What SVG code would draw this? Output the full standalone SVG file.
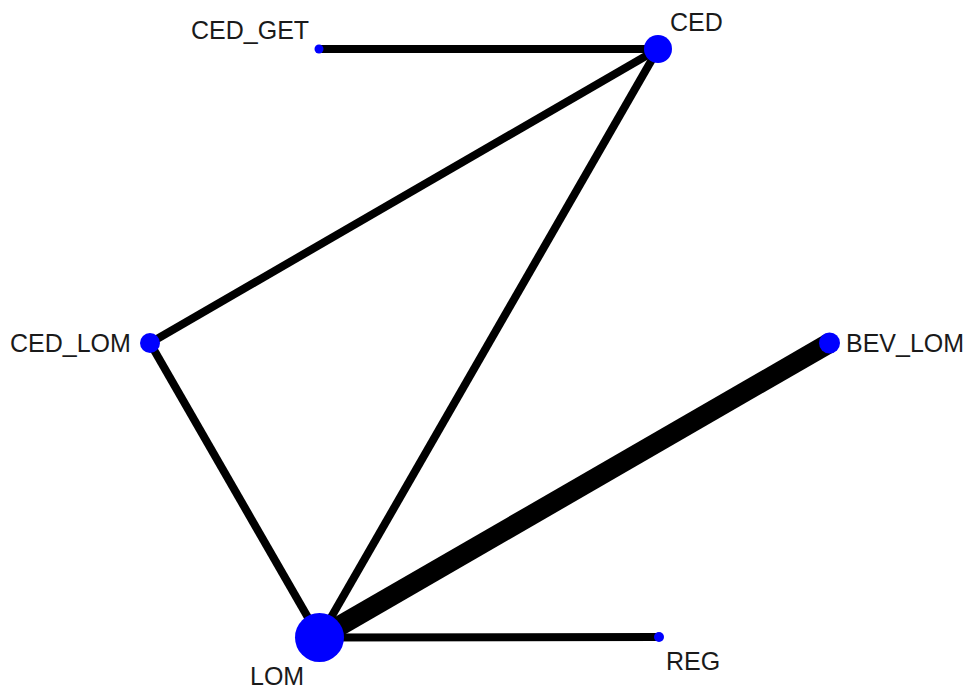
<svg xmlns="http://www.w3.org/2000/svg" width="968" height="690" viewBox="0 0 968 690">
<style>
.e{stroke:#000;stroke-width:8;fill:none}
.n{fill:#0000ff}
.t{font-family:"Liberation Sans",Arial,sans-serif;font-size:25px;fill:#1a1a1a}
</style>
<rect width="968" height="690" fill="#fff"/>
<g id="connectors">
<line class="e" x1="319" y1="49" x2="658" y2="49"/>
<line class="e" x1="658" y1="49" x2="150" y2="343"/>
<line class="e" x1="658" y1="49" x2="319.5" y2="637.5"/>
<line class="e" x1="150" y1="343" x2="319.5" y2="637.5"/>
<line class="e" x1="319.5" y1="637.5" x2="659" y2="637"/>
<line class="e" style="stroke-width:20" x1="319.5" y1="637.5" x2="829.5" y2="343"/>
</g>
<g id="CED_GET"><circle class="n" cx="319" cy="49" r="4.5"/><text class="t" x="191" y="39">CED_GET</text></g>
<g id="CED"><circle class="n" cx="658" cy="49" r="14"/><text class="t" x="670" y="31">CED</text></g>
<g id="CED_LOM"><circle class="n" cx="150" cy="343" r="10"/><text class="t" x="10" y="352">CED_LOM</text></g>
<g id="BEV_LOM"><circle class="n" cx="829.5" cy="343" r="10.5"/><text class="t" x="846" y="352">BEV_LOM</text></g>
<g id="LOM"><circle class="n" cx="319.5" cy="637.5" r="24.5"/><text class="t" x="250" y="685">LOM</text></g>
<g id="REG"><circle class="n" cx="659" cy="637" r="5"/><text class="t" x="666" y="670">REG</text></g>
</svg>
